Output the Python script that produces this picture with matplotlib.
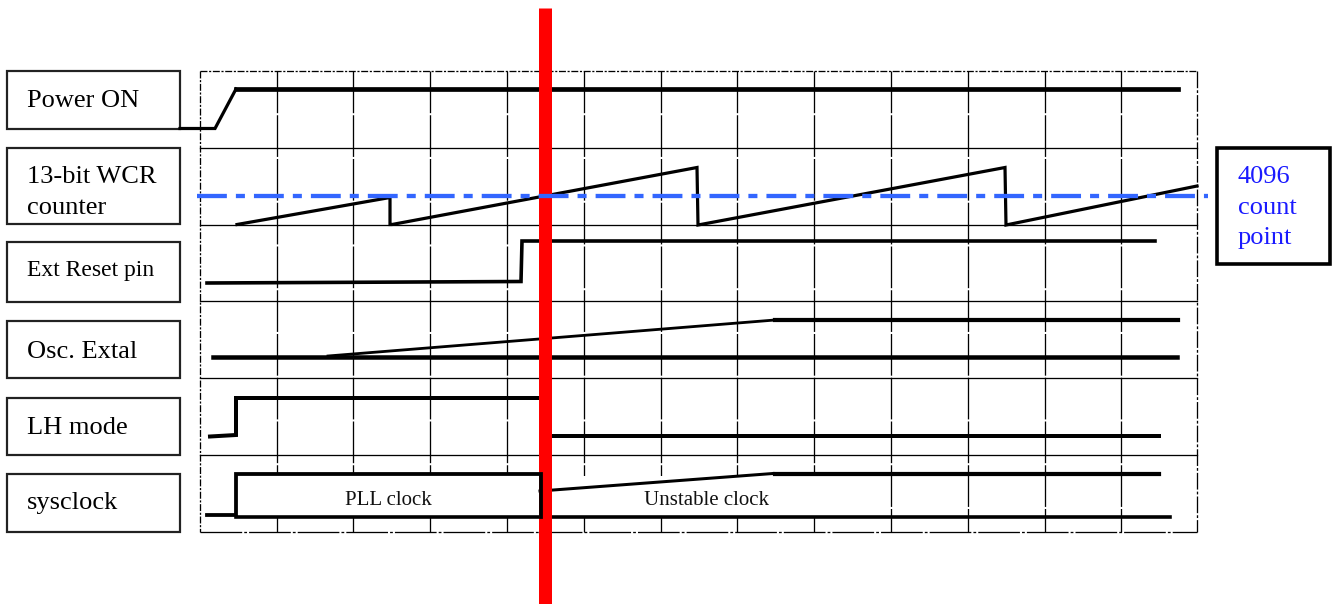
import numpy as np
import matplotlib
matplotlib.use("Agg")
import matplotlib.pyplot as plt
from matplotlib.patches import Rectangle

plt.rcParams['lines.scale_dashes'] = False
plt.rcParams['font.family'] = ['Liberation Serif', 'DejaVu Serif']

# ---------------- data (pixel space of the diagram) ----------------
row_labels = ["Power ON", "13-bit WCR\ncounter", "Ext Reset pin", "Osc. Extal", "LH mode", "sysclock"]
label_sizes = [19, 19, 17, 19, 19, 19]
label_baselines = [107, 183, 276, 357.5, 434, 509]
box_tops = [71, 148, 242, 321, 398, 474]
box_bottoms = [129, 224, 302, 378, 455, 532]

grid_rows = [71, 148, 224.5, 301, 378, 455, 532]
grid_cols = list(np.linspace(199.7, 1121.3, 13)) + [1197.3]

power_x = [180, 215, 236, 1178]
power_y = [128.5, 128.5, 89, 89]

wcr_x = [237, 390, 390, 392, 697, 698, 1005, 1006, 1197]
wcr_y = [224.5, 197.5, 224.5, 224.5, 167.5, 225, 167.5, 225, 186]

reset_x = [207, 521, 522, 1155]
reset_y = [283, 281.5, 241, 241]

osc_low_x = [213, 1177]
osc_low_y = [357, 357]
osc_ramp_x = [328, 775]
osc_ramp_y = [356, 320]
osc_high_x = [775, 1178]
osc_high_y = [320, 320]

lh_x = [210, 236, 236, 537]
lh_y = [436.5, 435, 398, 398]
lh_low_x = [552, 1159]
lh_low_y = [436, 436]

sys_x = [207, 236, 236, 541, 541]
sys_y = [515, 515, 474, 474, 517]
sys_bottom_x = [236, 1170]
sys_bottom_y = [517, 517]
sys_ramp_x = [540, 773]
sys_ramp_y = [491, 473.5]
sys_high_x = [775, 1159]
sys_high_y = [474, 474]

count_level = 196
count_line_x = [197, 1208]
reset_marker_x = 544.5
count_text = ["4096", "count", "point"]
count_baselines = [183, 214, 244]

# ---------------- figure ----------------
W, H = 1332, 604
fig = plt.figure(figsize=(W / 100, H / 100), dpi=100)
ax = fig.add_axes([0, 0, 1, 1])
ax.set_xlim(0, W)
ax.set_ylim(H, 0)
ax.axis('off')

px = 0.72  # points per pixel
fine = (0, (5, 1.2, 1.5, 1.2))
longdash = (0, (30, 1.5))

# grid
x0, x1 = grid_cols[0], grid_cols[-1]
y0, y1 = grid_rows[0], grid_rows[-1]
for y in grid_rows[1:-1]:
    ax.plot([x0, x1], [y, y], color='black', lw=1.3 * px, zorder=1)
ax.plot([x0, x1], [y0, y0], color='black', lw=1.3 * px, ls=fine, zorder=1)
ax.plot([x0, x1], [y1, y1], color='black', lw=1.3 * px, ls=(0, (30, 1.5, 2, 1.5)), zorder=1)
for x in grid_cols[1:-1]:
    ax.plot([x, x], [y0, y1], color='black', lw=1.3 * px, ls=longdash, zorder=1)
ax.plot([x0, x0], [y0, y1], color='black', lw=1.3 * px, ls=fine, zorder=1)
ax.plot([x1, x1], [y0, y1], color='black', lw=1.3 * px, ls=(0, (12, 1.5, 2, 1.5)), zorder=1)

# white areas behind the clock labels
ax.add_patch(Rectangle((237, 475), 303, 41, facecolor='white', edgecolor='none', zorder=1.5))
ax.add_patch(Rectangle((549, 476), 333, 40, facecolor='white', edgecolor='none', zorder=1.5))

# label boxes
for lab, sz, bl, t, b in zip(row_labels, label_sizes, label_baselines, box_tops, box_bottoms):
    ax.add_patch(Rectangle((7, t), 173, b - t, facecolor='white', edgecolor='#222222',
                           lw=2.2 * px, zorder=2))
    for i, ln in enumerate(lab.split("\n")):
        ax.text(27, bl + i * 31, ln, fontsize=sz, color='black',
                ha='left', va='baseline', zorder=3)

# waveforms
ax.plot(power_x[:3], power_y[:3], color='black', lw=3.2 * px, zorder=2, solid_joinstyle='miter')
ax.plot(power_x[2:], power_y[2:], color='black', lw=4.7 * px, zorder=2)
ax.plot(wcr_x, wcr_y, color='black', lw=3.2 * px, zorder=2, solid_joinstyle='miter')
ax.plot(reset_x, reset_y, color='black', lw=3.6 * px, zorder=2, solid_joinstyle='miter')
ax.plot(osc_low_x, osc_low_y, color='black', lw=4.5 * px, zorder=2)
ax.plot(osc_ramp_x, osc_ramp_y, color='black', lw=2.8 * px, zorder=2)
ax.plot(osc_high_x, osc_high_y, color='black', lw=4.2 * px, zorder=2)
ax.plot(lh_x, lh_y, color='black', lw=4.0 * px, zorder=2, solid_joinstyle='miter')
ax.plot(lh_low_x, lh_low_y, color='black', lw=4.0 * px, zorder=2)
ax.plot(sys_bottom_x, sys_bottom_y, color='black', lw=3.6 * px, zorder=2)
ax.plot(sys_ramp_x, sys_ramp_y, color='black', lw=3.0 * px, zorder=2)
ax.plot(sys_high_x, sys_high_y, color='black', lw=4.2 * px, zorder=2)

ax.text(388, 505, "PLL clock", fontsize=15, color='#111111', ha='center', va='baseline', zorder=3)
ax.text(707, 505, "Unstable clock", fontsize=15, color='#111111', ha='center', va='baseline', zorder=3)

# red reset marker
ax.plot([reset_marker_x, reset_marker_x], [8, H], color='#ff0000', lw=13 * px,
        solid_capstyle='butt', zorder=3)
ax.plot(sys_x, sys_y, color='black', lw=3.8 * px, zorder=3.5, solid_joinstyle='miter')

# 4096 count level
ax.plot(count_line_x, [count_level, count_level], color='#3366ff', lw=4.3 * px,
        ls=(0, (21.5, 6.5, 6.5, 6.5)), solid_capstyle='butt', dash_capstyle='butt', zorder=4)

ax.add_patch(Rectangle((1217, 148), 113, 116, facecolor='white', edgecolor='black',
                       lw=3.6 * px, zorder=4))
for t, bl in zip(count_text, count_baselines):
    ax.text(1238, bl, t, fontsize=19, color='#1a1aff', ha='left', va='baseline', zorder=5)

fig.savefig("out.png", dpi=100)
